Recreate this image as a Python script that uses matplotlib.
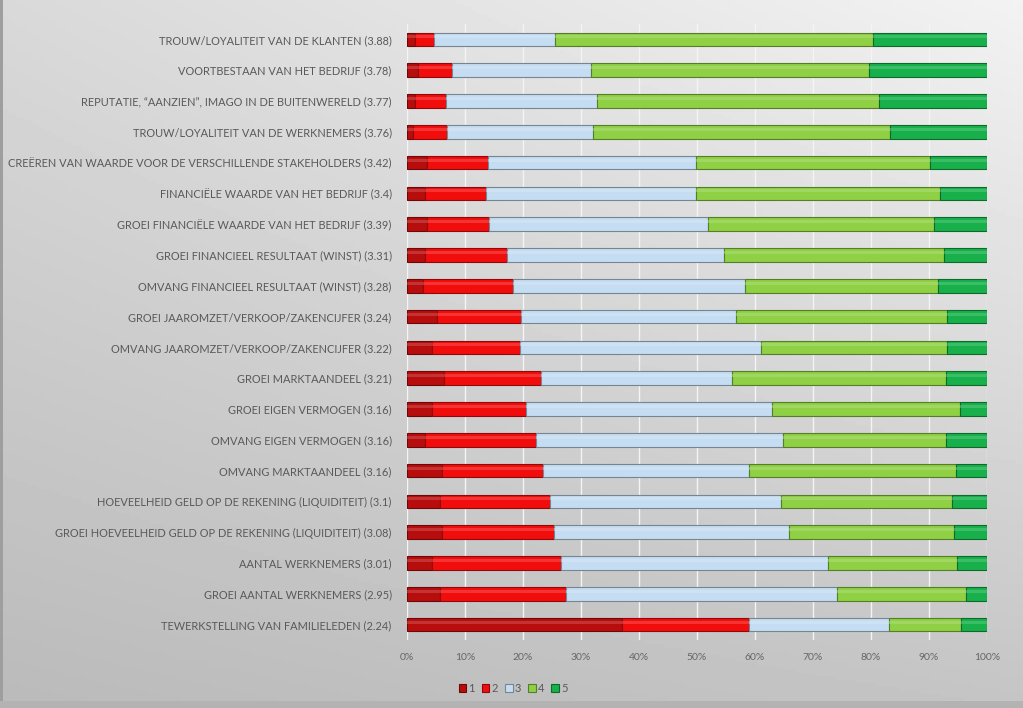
import numpy as np
import matplotlib
matplotlib.use('Agg')
import matplotlib.pyplot as plt
from matplotlib.colors import to_rgb

# categories, top to bottom
labels = [
    'TROUW/LOYALITEIT VAN DE KLANTEN (3.88)',
    'VOORTBESTAAN VAN HET BEDRIJF (3.78)',
    'REPUTATIE, \u201cAANZIEN\u201d, IMAGO IN DE BUITENWERELD (3.77)',
    'TROUW/LOYALITEIT VAN DE WERKNEMERS (3.76)',
    'CRE\u00cbREN VAN WAARDE VOOR DE VERSCHILLENDE STAKEHOLDERS (3.42)',
    'FINANCI\u00cbLE WAARDE VAN HET BEDRIJF (3.4)',
    'GROEI FINANCI\u00cbLE WAARDE VAN HET BEDRIJF (3.39)',
    'GROEI FINANCIEEL RESULTAAT (WINST) (3.31)',
    'OMVANG FINANCIEEL RESULTAAT (WINST) (3.28)',
    'GROEI JAAROMZET/VERKOOP/ZAKENCIJFER (3.24)',
    'OMVANG JAAROMZET/VERKOOP/ZAKENCIJFER (3.22)',
    'GROEI MARKTAANDEEL (3.21)',
    'GROEI EIGEN VERMOGEN (3.16)',
    'OMVANG EIGEN VERMOGEN (3.16)',
    'OMVANG MARKTAANDEEL (3.16)',
    'HOEVEELHEID GELD OP DE REKENING (LIQUIDITEIT) (3.1)',
    'GROEI HOEVEELHEID GELD OP DE REKENING (LIQUIDITEIT) (3.08)',
    'AANTAL WERKNEMERS (3.01)',
    'GROEI AANTAL WERKNEMERS (2.95)',
    'TEWERKSTELLING VAN FAMILIELEDEN (2.24)',
]

# share (%) per score
score1 = [1.4, 1.9, 1.4, 1.0, 3.4, 3.1, 3.4, 3.1, 2.8, 5.1,
          4.3, 6.3, 4.3, 3.1, 6.0, 5.7, 6.0, 4.3, 5.7, 37.0]
score2 = [3.3, 5.8, 5.3, 5.9, 10.5, 10.6, 10.7, 14.1, 15.4, 14.5,
          15.1, 16.8, 16.3, 19.1, 17.5, 19.0, 19.4, 22.3, 21.7, 22.0]
score3 = [20.8, 24.0, 26.0, 25.1, 36.0, 36.2, 37.8, 37.5, 40.1, 37.2,
          41.6, 32.9, 42.4, 42.6, 35.5, 39.7, 40.4, 45.9, 46.7, 24.1]
score4 = [54.8, 48.0, 48.7, 51.3, 40.2, 42.0, 38.9, 37.9, 33.3, 36.3,
          32.1, 36.9, 32.3, 28.1, 35.6, 29.5, 28.5, 22.3, 22.3, 12.5]
score5 = [19.7, 20.3, 18.6, 16.7, 9.9, 8.1, 9.2, 7.4, 8.4, 6.9,
          6.9, 7.1, 4.7, 7.1, 5.4, 6.1, 5.7, 5.2, 3.6, 4.4]

series_names = ['1', '2', '3', '4', '5']
colors = ['#b80d0d', '#f20d0d', '#c5ddf2', '#8fd045', '#17b04a']

fig = plt.figure(figsize=(10.23, 7.08), dpi=100)

# grey gradient background
bg = fig.add_axes([0, 0, 1, 1], zorder=-10)
xx, yy = np.meshgrid(np.linspace(0, 1, 300), np.linspace(0, 1, 200))
shade = 0.73 + 0.10 * xx + 0.12 * (1 - yy) - 0.06 * xx * yy
shade[:, :1] = 0.62
shade[-2:, :] = 0.70
bg.imshow(shade, cmap='gray', vmin=0, vmax=1, aspect='auto', extent=[0, 1, 0, 1])
bg.axis('off')

ax = fig.add_axes([407 / 1023, 1 - 640 / 708, 580 / 1023, 616 / 708])
ax.set_facecolor('none')

y = np.arange(len(labels))
data = [score1, score2, score3, score4, score5]
left = np.zeros(len(labels))
h = 0.44
for vals, col, name in zip(data, colors, series_names):
    vals = np.array(vals)
    r, g, b = to_rgb(col)
    edge = (r * 0.6, g * 0.6, b * 0.6)
    ax.barh(y, vals, left=left, height=h, color=col, edgecolor=edge,
            linewidth=0.8, zorder=3, label=name)
    # soft highlight for tube look
    light = (r + (1 - r) * 0.35, g + (1 - g) * 0.35, b + (1 - b) * 0.35)
    ax.barh(y - h * 0.18, vals, left=left, height=h * 0.22, color=light,
            linewidth=0, alpha=0.45, zorder=4)
    left += vals

ax.set_xlim(0, 100)
ax.set_ylim(len(labels) - 0.5, -0.5)
ax.set_yticks(y)
ax.set_yticklabels(labels, fontsize=7.9, color='#595959', family='Lato')
ax.set_xticks(np.arange(0, 101, 10))
ax.set_xticklabels([f'{v}%' for v in range(0, 101, 10)], fontsize=7.5,
                   color='#666666', family='Lato')
ax.tick_params(axis='y', length=0, pad=11)
ax.tick_params(axis='x', length=0, pad=9)
ax.grid(axis='x', color='#f4f4f4', linewidth=1, zorder=0)
for s in ax.spines.values():
    s.set_visible(False)

fig.legend(loc='center', bbox_to_anchor=(513 / 1023, 1 - 688 / 708), ncol=5,
           frameon=False, handlelength=0.7, handleheight=0.7, handletextpad=0.2,
           columnspacing=0.6, prop={'family': 'Lato', 'size': 8},
           labelcolor='#595959')

fig.savefig('out.png', dpi=100)
